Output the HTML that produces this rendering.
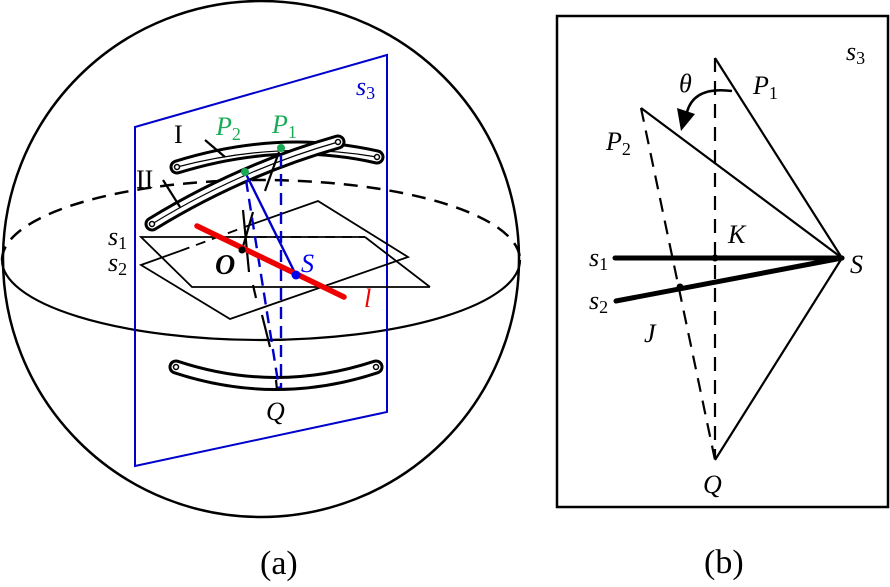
<!DOCTYPE html>
<html><head><meta charset="utf-8"><style>
body{margin:0;background:#fff}
svg{display:block}
text{font-family:"Liberation Serif",serif}
</style></head><body>
<svg width="890" height="587" viewBox="0 0 890 587" xmlns="http://www.w3.org/2000/svg">
<!-- sphere -->
<circle cx="261" cy="259" r="258" fill="none" stroke="#000" stroke-width="2.5"/>
<path d="M2,260 A259,80 0 0 0 520,260" fill="none" stroke="#000" stroke-width="2.2"/>
<path d="M2,260 A259,80 0 0 1 520,260" fill="none" stroke="#000" stroke-width="2.5" stroke-dasharray="14,9"/>
<!-- blue plane s3 -->
<polygon points="135,127 387,55 387,412 135,466" fill="none" stroke="#0000cc" stroke-width="2"/>
<!-- planes s1, s2 -->
<polyline points="365,237 141,237 192,287 430,287" fill="none" stroke="#000" stroke-width="1.8"/>
<line x1="365" y1="237" x2="430" y2="287" stroke="#000" stroke-width="1.8"/>
<line x1="240" y1="237" x2="365" y2="237" stroke="#000" stroke-width="1.8" stroke-dasharray="10,7"/>
<polyline points="180,251 141,265 230,319 408,257 318,201 250,225" fill="none" stroke="#000" stroke-width="1.8"/>
<line x1="180" y1="251" x2="250" y2="225" stroke="#000" stroke-width="1.8" stroke-dasharray="10,7"/>
<!-- links -->
<g fill="none" stroke-linecap="round">
<path d="M177,167 Q280,135 377,157" stroke="#000" stroke-width="15"/>
<path d="M177,167 Q280,135 377,157" stroke="#fff" stroke-width="9"/>
<path d="M177,167 Q280,140 377,157" stroke="#000" stroke-width="1.2"/>
<path d="M152,224 Q240,170 338,142" stroke="#000" stroke-width="15"/>
<path d="M152,224 Q240,170 338,142" stroke="#fff" stroke-width="9"/>
<path d="M152,224 Q240,170 338,142" stroke="#000" stroke-width="1.2"/>
<path d="M176,367 Q276,400 376,367" stroke="#000" stroke-width="15"/>
<path d="M176,367 Q276,400 376,367" stroke="#fff" stroke-width="9"/>
</g>
<g fill="#fff" stroke="#000" stroke-width="1.5">
<circle cx="177" cy="167" r="2.5"/><circle cx="377" cy="157" r="2.5"/>
<circle cx="152" cy="224" r="2.5"/><circle cx="338" cy="142" r="2.5"/>
<circle cx="176" cy="367" r="2.5"/><circle cx="376" cy="367" r="2.5"/>
</g>
<!-- black leader/link lines -->
<g stroke="#000" stroke-width="2.2">
<line x1="205" y1="140" x2="225" y2="157"/>
<line x1="163" y1="180" x2="180" y2="207"/>
<line x1="279" y1="152" x2="265" y2="191"/>
<line x1="243" y1="210" x2="249" y2="272"/>
<line x1="242" y1="250" x2="253" y2="212"/>
<line x1="253" y1="285" x2="256" y2="298"/>
<line x1="262" y1="315" x2="270" y2="347"/>
<line x1="276" y1="380" x2="277" y2="390"/>
</g>
<!-- blue lines -->
<g stroke="#0000cc" stroke-width="2.4" fill="none">
<line x1="245" y1="172" x2="296" y2="275"/>
<line x1="246" y1="180" x2="279" y2="388" stroke-dasharray="12,7"/>
<line x1="281" y1="155" x2="281" y2="388" stroke-dasharray="12,7"/>
</g>
<!-- red line -->
<line x1="197" y1="226" x2="344" y2="297" stroke="#ee0000" stroke-width="5.5" stroke-linecap="round"/>
<circle cx="242" cy="250" r="3.5" fill="#000"/>
<circle cx="296" cy="275" r="4.5" fill="#0000ee"/>
<circle cx="245" cy="172" r="4" fill="#1aaa55"/>
<circle cx="281" cy="148" r="4" fill="#1aaa55"/>
<!-- left labels -->
<g font-size="26" font-style="italic">
<text x="356" y="95" fill="#0000cc">s<tspan font-size="18" font-style="normal" dy="4">3</tspan></text>
<text x="216" y="135" fill="#1aaa55">P<tspan font-size="18" font-style="normal" dy="5">2</tspan></text>
<text x="272" y="133" fill="#1aaa55">P<tspan font-size="18" font-style="normal" dy="5">1</tspan></text>
<text x="108" y="245" fill="#000">s<tspan font-size="18" font-style="normal" dy="4">1</tspan></text>
<text x="108" y="271" fill="#000">s<tspan font-size="18" font-style="normal" dy="4">2</tspan></text>
<text x="215" y="274" fill="#000" font-weight="bold" font-size="28">O</text>
<text x="301" y="272" fill="#0000ee">S</text>
<text x="364" y="307" fill="#ee0000">l</text>
<text x="266" y="420" fill="#000">Q</text>
</g>
<text x="174" y="143" font-size="26">I</text>
<text x="136" y="188" font-size="26">II</text>
<text x="260" y="574" font-size="34">(a)</text>
<!-- right panel -->
<rect x="557" y="16" width="331" height="491" fill="none" stroke="#000" stroke-width="2.5"/>
<line x1="715" y1="58" x2="715" y2="458" stroke="#000" stroke-width="2.2" stroke-dasharray="14,9"/>
<line x1="641" y1="108" x2="715" y2="460" stroke="#000" stroke-width="2.2" stroke-dasharray="14,9"/>
<g stroke="#000" stroke-width="2.2" fill="none">
<polyline points="715,58 842,258 715,460"/>
<line x1="641" y1="108" x2="842" y2="258"/>
</g>
<line x1="615" y1="258" x2="842" y2="258" stroke="#000" stroke-width="5" stroke-linecap="round"/>
<line x1="616" y1="301" x2="842" y2="258" stroke="#000" stroke-width="5" stroke-linecap="round"/>
<circle cx="715" cy="258" r="3.5" fill="#000"/>
<circle cx="680" cy="287" r="3.5" fill="#000"/>
<path d="M732,91 Q694,86 687,112" fill="none" stroke="#000" stroke-width="2.5"/>
<polygon points="677,108 695,114 681,131" fill="#000"/>
<g font-size="26" font-style="italic">
<text x="846" y="60">s<tspan font-size="18" font-style="normal" dy="4">3</tspan></text>
<text x="679" y="92">θ</text>
<text x="753" y="94">P<tspan font-size="18" font-style="normal" dy="5">1</tspan></text>
<text x="606" y="150">P<tspan font-size="18" font-style="normal" dy="5">2</tspan></text>
<text x="728" y="243">K</text>
<text x="589" y="266">s<tspan font-size="18" font-style="normal" dy="4">1</tspan></text>
<text x="850" y="273">S</text>
<text x="589" y="309">s<tspan font-size="18" font-style="normal" dy="4">2</tspan></text>
<text x="644" y="342">J</text>
<text x="703" y="493">Q</text>
</g>
<text x="704" y="573" font-size="34">(b)</text>
</svg>
</body></html>
